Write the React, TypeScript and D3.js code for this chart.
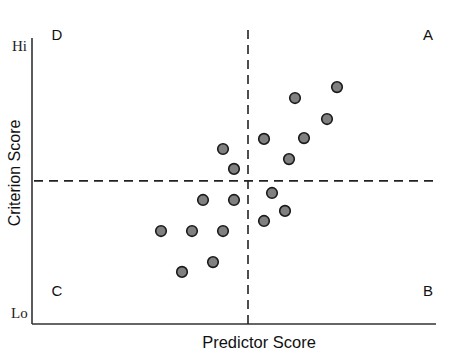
import React from "react";
import * as d3 from "d3";

const predictor = [76.25, 65.75, 73.75, 58, 68, 47.75, 64.25, 50.5, 60, 42.75, 50.5, 63.25, 58, 32.25, 40, 47.75, 45.25, 37.5];
const criterion = [84.6, 80.7, 73.2, 66.1, 66.4, 62.5, 58.9, 55.4, 46.8, 44.3, 44.3, 40.4, 36.8, 33.2, 33.2, 33.2, 22.1, 18.6];
const cutX = 54;
const cutY = 51.1;
const quadrantLabels = ["D", "A", "C", "B"];
const yTickLabels = ["Hi", "Lo"];

export default function App() {
  const W = 451, H = 358;
  const x = d3.scaleLinear().domain([0, 100]).range([32, 432]);
  const y = d3.scaleLinear().domain([0, 100]).range([324, 44]);
  const pts = predictor.map((p, i) => ({ p, c: criterion[i] }));
  const sans = "'Liberation Sans', Arial, sans-serif";
  const serif = "'Liberation Serif', 'Times New Roman', serif";
  return (
    <svg width={W} height={H} style={{ position: "absolute", left: 0, top: 0, background: "#fff" }}>
      <line x1={x(0)} x2={x(0)} y1={y(102.1)} y2={y(0)} stroke="#333" strokeWidth={1.6} />
      <line x1={x(0)} x2={x(101)} y1={y(0)} y2={y(0)} stroke="#333" strokeWidth={1.6} />
      <line x1={x(cutX)} x2={x(cutX)} y1={y(105)} y2={y(0)} stroke="#222" strokeWidth={1.6} strokeDasharray="9,6" />
      <line x1={x(0.5)} x2={x(101.5)} y1={y(cutY)} y2={y(cutY)} stroke="#222" strokeWidth={1.6} strokeDasharray="9,6" />
      {pts.map((d, i) => (
        <circle key={i} cx={x(d.p)} cy={y(d.c)} r={5.3} fill="#808080" stroke="#1a1a1a" strokeWidth={1.6} />
      ))}
      <text x={12} y={51} fontFamily={serif} fontSize={15} fill="#222">{yTickLabels[0]}</text>
      <text x={11} y={318} fontFamily={serif} fontSize={15} fill="#222">{yTickLabels[1]}</text>
      <text x={57} y={40} fontFamily={sans} fontSize={15} textAnchor="middle" fill="#111">{quadrantLabels[0]}</text>
      <text x={428} y={40} fontFamily={sans} fontSize={15} textAnchor="middle" fill="#111">{quadrantLabels[1]}</text>
      <text x={57} y={296} fontFamily={sans} fontSize={15} textAnchor="middle" fill="#111">{quadrantLabels[2]}</text>
      <text x={428} y={296} fontFamily={sans} fontSize={15} textAnchor="middle" fill="#111">{quadrantLabels[3]}</text>
      <text x={259} y={348} fontFamily={sans} fontSize={16.5} textAnchor="middle" fill="#111">Predictor Score</text>
      <text transform="translate(20,173) rotate(-90)" fontFamily={sans} fontSize={16} textAnchor="middle" fill="#111">Criterion Score</text>
    </svg>
  );
}
